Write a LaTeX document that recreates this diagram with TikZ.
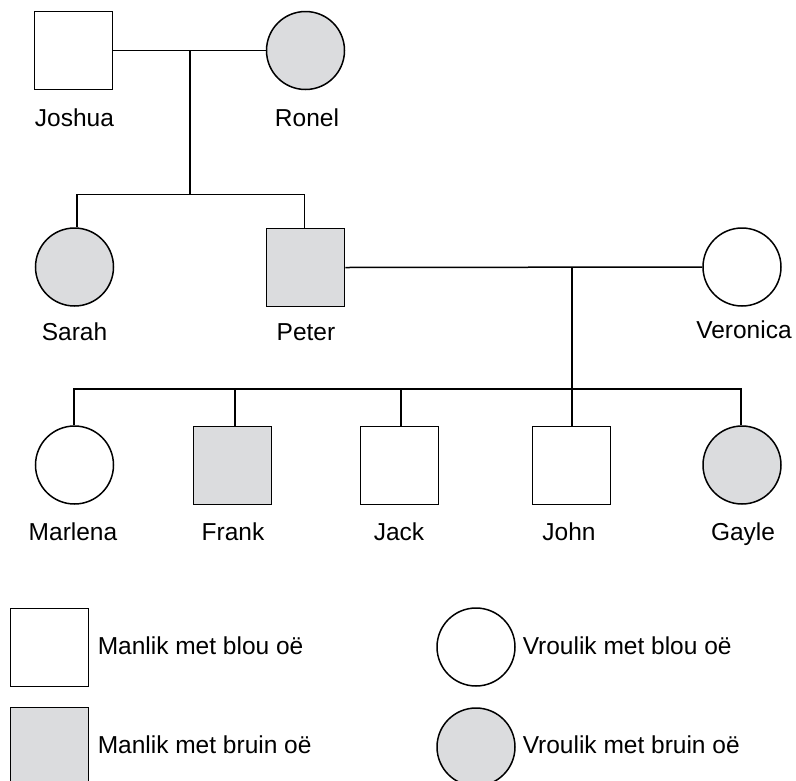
\documentclass[tikz,border=0pt]{standalone}
\usepackage{fontspec}
\setmainfont{Liberation Sans}
\definecolor{eyegray}{RGB}{219,220,222}
\begin{document}
\begin{tikzpicture}[x=1pt,y=-1pt,line width=1.5pt,
  male/.style={rectangle,draw,minimum size=78pt,inner sep=0pt},
  female/.style={circle,draw,minimum size=78pt,inner sep=0pt},
  brown/.style={fill=eyegray},
  pname/.style={font=\fontsize{24.5}{29}\selectfont,anchor=base,inner sep=0pt},
  legtext/.style={font=\fontsize{24.5}{29}\selectfont,anchor=base west,inner sep=0pt}]
\useasboundingbox (0,0) rectangle (796,780);
\clip (0,0) rectangle (796,780);
% generation 1
\node[male] (joshua) at (73.5,50.5) {};
\node[female,brown] (ronel) at (305.5,50.5) {};
\node[pname] (tjoshua) at (74.5,126) {Joshua};
\node[pname] (tronel) at (307,126) {Ronel};
% generation 2
\node[female,brown] (sarah) at (74.5,267) {};
\node[male,brown] (peter) at (305.5,267.5) {};
\node[female] (veronica) at (742,267) {};
\node[pname] (tsarah) at (74.5,340) {Sarah};
\node[pname] (tpeter) at (306,340) {Peter};
\node[pname] (tveronica) at (744,338) {Veronica};
% generation 3
\node[female] (marlena) at (74.5,465) {};
\node[male,brown] (frank) at (232.5,465.5) {};
\node[male] (jack) at (399.5,465.5) {};
\node[male] (john) at (571.5,465.5) {};
\node[female,brown] (gayle) at (742,465) {};
\node[pname] (tmarlena) at (73,540) {Marlena};
\node[pname] (tfrank) at (233,540) {Frank};
\node[pname] (tjack) at (399,540) {Jack};
\node[pname] (tjohn) at (569,540) {John};
\node[pname] (tgayle) at (743,540) {Gayle};
% connectors generation 1 -> 2
\coordinate (m1) at (190,50.5);
\coordinate (s1) at (190,194.5);
\coordinate (sL) at (77,194.5);
\coordinate (sR) at (304.5,194.5);
\draw (joshua.east) -- (ronel.west);
\draw (m1) -- (s1);
\draw (sL |- sarah.north) -- (sL) -- (sR) -- (sR |- peter.north);
% connectors generation 2 -> 3
\coordinate (m2) at (572,267.5);
\coordinate (cL) at (74,389);
\coordinate (cR) at (741,389);
\coordinate (cF) at (235,389);
\coordinate (cJ) at (401,389);
\draw (peter.east) -- (veronica.west);
\draw (m2) -- (m2 |- john.north);
\draw (cL |- marlena.north) -- (cL) -- (cR) -- (cR |- gayle.north);
\draw (cF) -- (cF |- frank.north);
\draw (cJ) -- (cJ |- jack.north);
% legend
\node[male] (lm1) at (49.5,647.5) {};
\node[male,brown] (lm2) at (49.5,746.5) {};
\node[female] (lf1) at (476,647) {};
\node[female,brown] (lf2) at (476,747) {};
\node[legtext] (tlm1) at (97,654) {Manlik met blou oë};
\node[legtext] (tlm2) at (97,753) {Manlik met bruin oë};
\node[legtext] (tlf1) at (522,654) {Vroulik met blou oë};
\node[legtext] (tlf2) at (522,753) {Vroulik met bruin oë};
\end{tikzpicture}
\end{document}
